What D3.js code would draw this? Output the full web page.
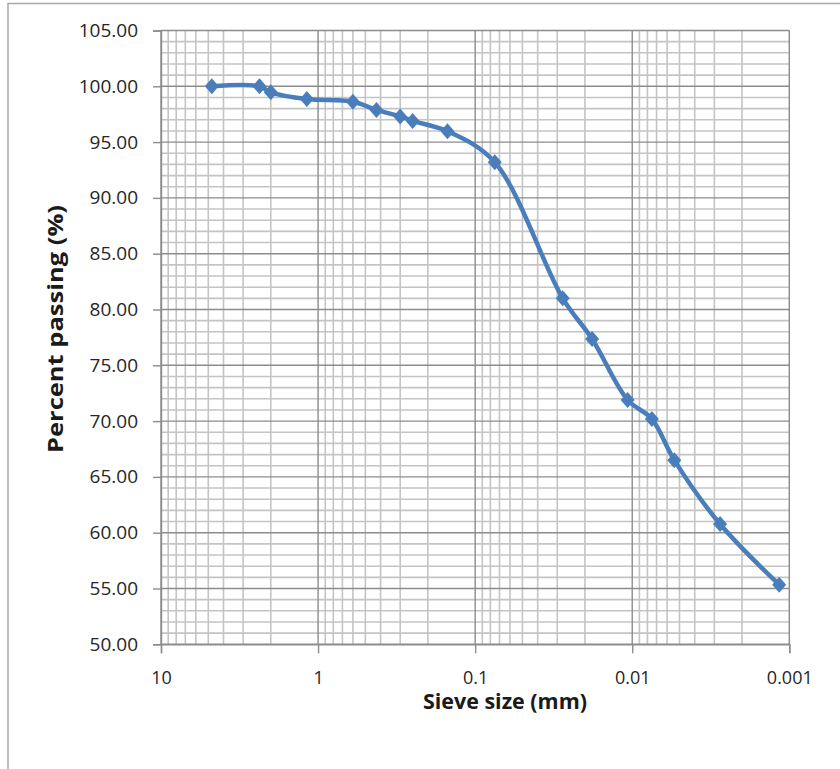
<!DOCTYPE html>
<html>
<head>
<meta charset="utf-8">
<script src="https://cdn.jsdelivr.net/npm/d3@7"></script>
<style>
  html, body { margin: 0; padding: 0; background: #fff; }
  svg { display: block; }
  .tick text { font-family: "Open Sans", "Liberation Sans", sans-serif; fill: #262626; }
  .title { font-family: "Open Sans", "Liberation Sans", sans-serif; font-weight: bold; fill: #1a1a1a; }
</style>
</head>
<body>
<svg id="chart" width="840" height="769"></svg>
<script>
// Grain-size distribution: sieve / hydrometer size (mm) vs percent passing
const sieveSizes = [4.75, 2.36, 2.0, 1.18, 0.6, 0.425, 0.3, 0.25, 0.15, 0.075,
                    0.0277, 0.0180, 0.0107, 0.0075, 0.0054, 0.00276, 0.00116];
const percentPassing = [100.00, 100.00, 99.46, 98.86, 98.62, 97.88, 97.30, 96.90, 95.97, 93.19,
                        81.00, 77.36, 71.90, 70.19, 66.50, 60.78, 55.34];
const xTickValues = [10, 1, 0.1, 0.01, 0.001];
const xTickLabels = ["10", "1", "0.1", "0.01", "0.001"];
const yTickValues = [50, 55, 60, 65, 70, 75, 80, 85, 90, 95, 100, 105];
const xTitle = "Sieve size (mm)";
const yTitle = "Percent passing (%)";

const svg = d3.select("#chart");

// outer chart frame
svg.append("rect")
  .attr("x", 8).attr("y", 3.5)
  .attr("width", 900).attr("height", 900)
  .attr("fill", "none").attr("stroke", "#a9a9a9").attr("stroke-width", 1.5);

const plot = { left: 161, right: 789.3, top: 30.5, bottom: 644.3 };

const x = d3.scaleLog().domain([10, 0.001]).range([plot.left, plot.right]);
const y = d3.scaleLinear().domain([50, 105]).range([plot.bottom, plot.top]);

// minor grid: 2..9 within each decade, every 1% vertically
const minorX = [];
for (let e = -3; e < 1; e++) {
  for (let m = 2; m <= 9; m++) minorX.push(m * Math.pow(10, e));
}
const minorY = d3.range(50, 105.01, 1).filter(v => v % 5 !== 0);

const grid = svg.append("g");
grid.selectAll("line.mx").data(minorX).join("line")
  .attr("x1", d => x(d)).attr("x2", d => x(d))
  .attr("y1", plot.top).attr("y2", plot.bottom)
  .attr("stroke", "#c4c4c4").attr("stroke-width", 1.6);
grid.selectAll("line.my").data(minorY).join("line")
  .attr("x1", plot.left).attr("x2", plot.right)
  .attr("y1", d => y(d)).attr("y2", d => y(d))
  .attr("stroke", "#c4c4c4").attr("stroke-width", 1.6);
// major grid
grid.selectAll("line.Mx").data(xTickValues).join("line")
  .attr("x1", d => x(d)).attr("x2", d => x(d))
  .attr("y1", plot.top).attr("y2", plot.bottom)
  .attr("stroke", "#8c8c8c").attr("stroke-width", 1.4);
grid.selectAll("line.My").data(yTickValues).join("line")
  .attr("x1", plot.left).attr("x2", plot.right)
  .attr("y1", d => y(d)).attr("y2", d => y(d))
  .attr("stroke", "#8c8c8c").attr("stroke-width", 1.4);

// axes
const yAxis = d3.axisLeft(y).tickValues(yTickValues)
  .tickFormat(d3.format(".2f")).tickSize(8).tickPadding(15);
const gy = svg.append("g").attr("transform", `translate(${plot.left},0)`).call(yAxis);
gy.select(".domain").attr("stroke", "#8c8c8c").attr("stroke-width", 1.4);
gy.selectAll(".tick line").attr("stroke", "#8c8c8c").attr("stroke-width", 1.4);
gy.selectAll(".tick text").attr("font-size", 19);

const xAxis = d3.axisBottom(x).tickValues(xTickValues)
  .tickFormat((d, i) => xTickLabels[i]).tickSize(9).tickPadding(18);
const gx = svg.append("g").attr("transform", `translate(0,${plot.bottom})`).call(xAxis);
gx.select(".domain").attr("stroke", "#8c8c8c").attr("stroke-width", 1.4);
gx.selectAll(".tick line").attr("stroke", "#8c8c8c").attr("stroke-width", 1.4);
gx.selectAll(".tick text").attr("font-size", 18);

// axis titles
svg.append("text").attr("class", "title")
  .attr("x", 505).attr("y", 709)
  .attr("text-anchor", "middle").attr("font-size", 21)
  .attr("textLength", 164).attr("lengthAdjust", "spacingAndGlyphs")
  .text(xTitle);
svg.append("text").attr("class", "title")
  .attr("transform", "translate(63,329) rotate(-90)")
  .attr("text-anchor", "middle").attr("font-size", 22)
  .attr("textLength", 248).attr("lengthAdjust", "spacingAndGlyphs")
  .text(yTitle);

// data series
const pts = sieveSizes.map((s, i) => [s, percentPassing[i]]);
const color = "#4a7ebb";
svg.append("path")
  .datum(pts)
  .attr("fill", "none").attr("stroke", color).attr("stroke-width", 4.5)
  .attr("stroke-linejoin", "round")
  .attr("d", d3.line().x(d => x(d[0])).y(d => y(d[1])).curve(d3.curveCatmullRom.alpha(0.5)));

svg.append("g").selectAll("path").data(pts).join("path")
  .attr("transform", d => `translate(${x(d[0])},${y(d[1])})`)
  .attr("d", "M0,-8L7,0L0,8L-7,0Z")
  .attr("fill", color);
</script>
</body>
</html>
